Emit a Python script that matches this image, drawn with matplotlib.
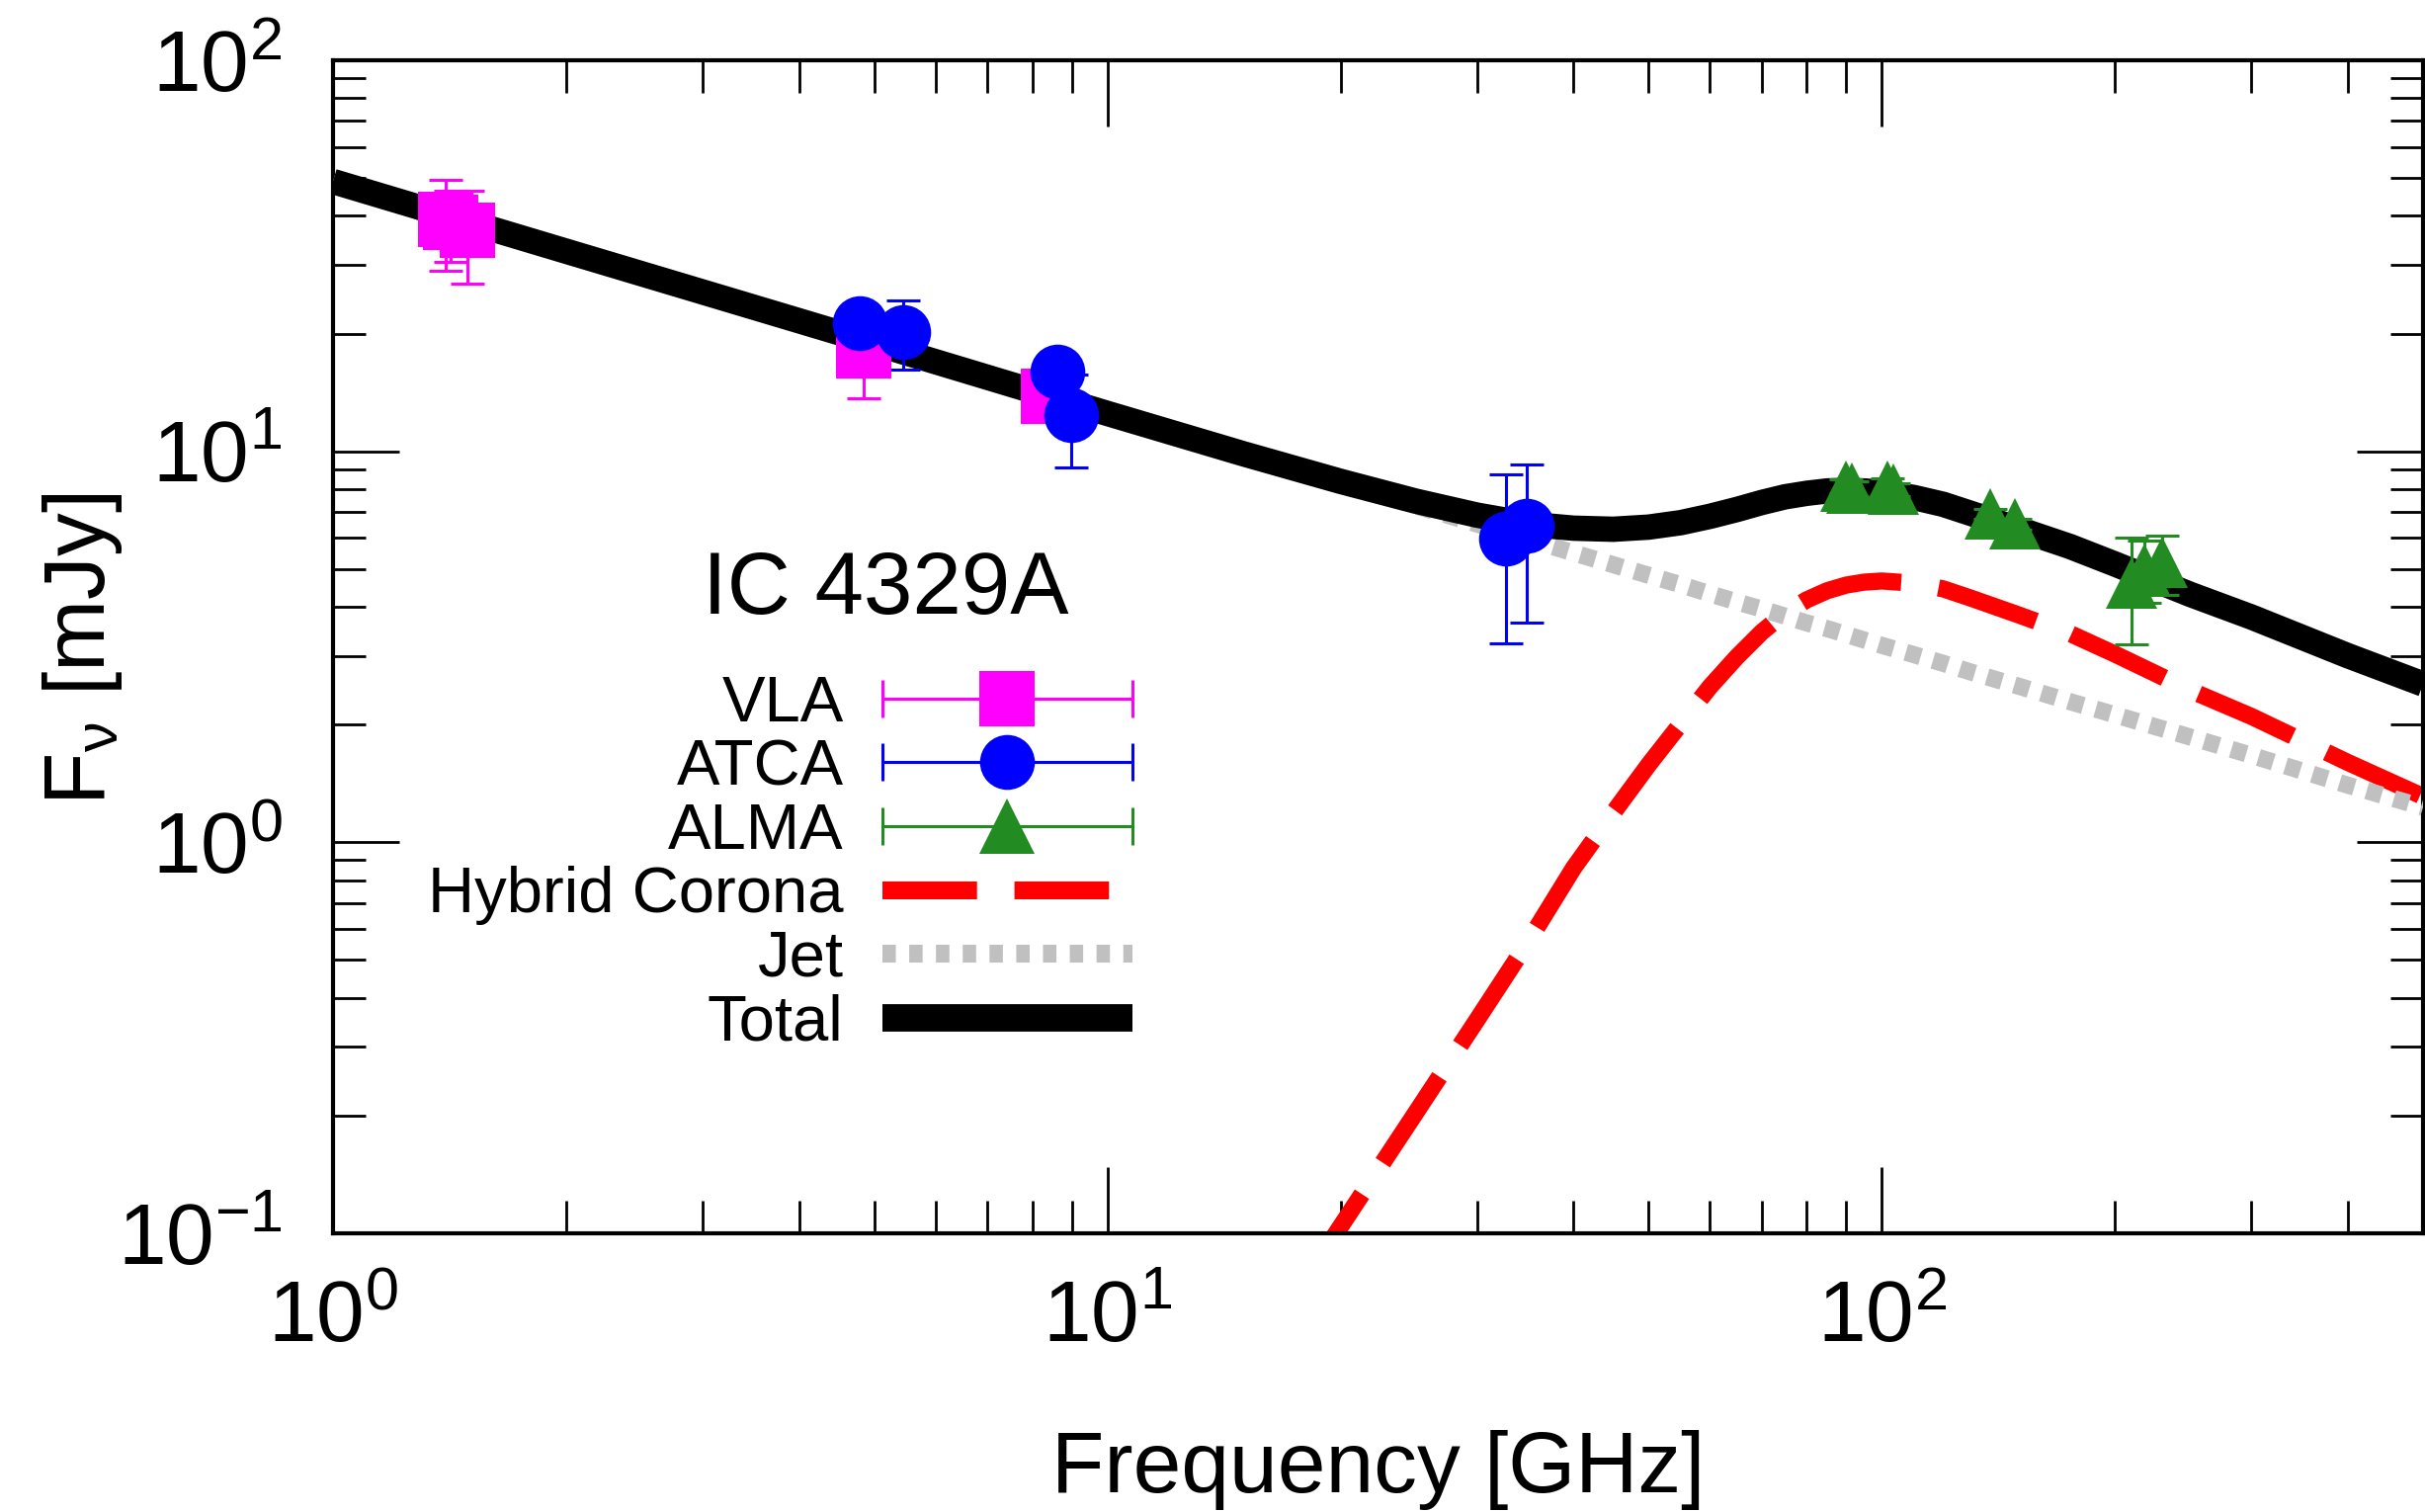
import numpy as np
import matplotlib.pyplot as plt
from matplotlib.lines import Line2D
from matplotlib.legend_handler import HandlerLine2D
from matplotlib.ticker import LogLocator

plt.rcParams['font.family'] = ['Liberation Sans', 'DejaVu Sans']
plt.rcParams['mathtext.fontset'] = 'custom'
plt.rcParams['mathtext.rm'] = 'Liberation Sans'
plt.rcParams['mathtext.it'] = 'Liberation Sans:italic'
plt.rcParams['mathtext.bf'] = 'Liberation Sans:bold'
plt.rcParams['axes.unicode_minus'] = False

# observed flux densities [GHz], [mJy]
vla_freq = [1.40, 1.42, 1.49, 4.85, 8.40]
vla_flux = [39.2, 38.5, 36.7, 18.1, 13.8]
vla_err = [10.3, 7.9, 9.8, 4.4, 1.5]

atca_freq = [4.79, 5.45, 8.61, 8.97, 32.7, 34.8]
atca_flux = [21.3, 20.2, 16.0, 12.4, 5.98, 6.44]
atca_err = [2.0, 4.05, 1.5, 3.3, 2.75, 2.8]

alma_freq = [90.0, 91.6, 101.8, 103.6, 138.0, 148.6, 210.0, 218.0, 230.0]
alma_flux = [8.15, 8.04, 8.15, 8.00, 6.92, 6.52, 4.6, 5.0, 5.2]
alma_err = [0.35, 0.35, 0.4, 0.3, 0.2, 0.2, 1.4, 0.9, 0.9]

# model components
model_freq = [1, 2, 5, 10, 15, 20, 25, 30, 35, 40, 45, 50, 55, 60, 65, 70, 75,
              80, 85, 90, 95, 100, 110, 120, 130, 150, 175, 200, 250, 300,
              400, 500]
jet_flux = [49.0, 32.5, 18.9, 12.5, 9.83, 8.28, 7.26, 6.52, 5.95, 5.50, 5.13,
            4.82, 4.56, 4.32, 4.12, 3.95, 3.79, 3.64, 3.52, 3.40, 3.29, 3.19,
            3.02, 2.87, 2.73, 2.51, 2.29, 2.12, 1.86, 1.67, 1.40, 1.23]
total_flux = [49.0, 32.5, 18.9, 12.5, 9.85, 8.38, 7.46, 6.87, 6.51, 6.36, 6.32,
              6.40, 6.57, 6.82, 7.10, 7.40, 7.65, 7.81, 7.92, 7.95, 7.92, 7.85,
              7.62, 7.32, 6.95, 6.33, 5.71, 5.15, 4.31, 3.77, 3.00, 2.54]

corona_freq = [18, 20, 25, 30, 35, 40, 45, 50, 55, 60, 65, 70, 75, 80, 85, 90,
               95, 100, 110, 120, 130, 150, 175, 200, 250, 300, 400, 500]
corona_flux = [0.076, 0.104, 0.203, 0.351, 0.56, 0.86, 1.19, 1.58, 2.01, 2.50,
               2.98, 3.45, 3.86, 4.17, 4.40, 4.55, 4.63, 4.66, 4.60, 4.45, 4.22,
               3.82, 3.42, 3.03, 2.45, 2.10, 1.60, 1.31]

fig = plt.figure(figsize=(24.54, 15.30), dpi=100)
ax = fig.add_axes([0.1373, 0.1843, 0.8619, 0.7758])
ax.set_xscale('log')
ax.set_yscale('log')

red_dash = (0, (6.0, 2.2))
gray_dot = (0, (0.9, 0.75))

ax.plot(corona_freq, corona_flux, color='#ff0000', lw=12.5, ls=red_dash,
        dash_capstyle='butt', zorder=2)
ax.plot(model_freq, jet_flux, color='#c0c0c0', lw=12.5, ls=gray_dot,
        dash_capstyle='butt', zorder=3)
ax.plot(model_freq, total_flux, color='black', lw=18.5, solid_capstyle='butt',
        zorder=4)

ekw = dict(elinewidth=2.2, capsize=12, capthick=2.2, zorder=5)
sets = [
    (vla_freq, vla_flux, vla_err, 's', '#ff00ff', 40),
    (atca_freq, atca_flux, atca_err, 'o', '#0000ff', 40),
    (alma_freq, alma_flux, alma_err, '^', '#228b22', 37),
]
for fr, fl, er, mk, col, size in sets:
    cont = ax.errorbar(fr, fl, yerr=er, fmt=mk, color=col, ms=size, **ekw)
    cont[0].set_markeredgewidth(0)

ax.set_xlim(1, 500)
ax.set_ylim(0.1, 100)

for side in ax.spines.values():
    side.set_linewidth(3)
ax.xaxis.set_minor_locator(LogLocator(base=10, subs=np.arange(2, 10), numticks=20))
ax.yaxis.set_minor_locator(LogLocator(base=10, subs=np.arange(2, 10), numticks=20))
ax.tick_params(which='both', direction='in', top=True, right=True, width=2)
ax.tick_params(which='major', length=48, labelsize=63)
ax.tick_params(which='minor', length=24)
ax.tick_params(axis='y', which='major', pad=37)
ax.tick_params(axis='x', which='major', pad=34)

ax.set_xlabel('Frequency [GHz]', fontsize=63)
ax.set_ylabel(r'F$_{\mathrm{\nu}}$ [mJy]', fontsize=63)
ax.xaxis.set_label_coords(0.5, -0.168)
ax.yaxis.set_label_coords(-0.0998, 0.498)

ax.text(0.2643, 0.548, 'IC 4329A', transform=ax.transAxes, fontsize=64,
        ha='center', va='center')

# legend: horizontal error bar with the symbol in the middle, then the models
handles = []
bar_handler = {}
for col, mk, size in [('#ff00ff', 's', 40), ('#0000ff', 'o', 40),
                      ('#228b22', '^', 41)]:
    bar = Line2D([], [], color=col, lw=2.2, marker='|', markersize=28,
                 markeredgewidth=2.2)
    pt = Line2D([], [], color=col, ls='none', marker=mk, markersize=size,
                markeredgewidth=0)
    bar_handler[bar] = HandlerLine2D(numpoints=2, marker_pad=0)
    handles.append((bar, pt))
handles.append(Line2D([], [], color='#ff0000', lw=13, ls=(0, (5.3, 2.1)),
                      dash_capstyle='butt'))
handles.append(Line2D([], [], color='#c0c0c0', lw=13, ls=(0, (0.75, 0.75)),
                      dash_capstyle='butt'))
handles.append(Line2D([], [], color='black', lw=20, solid_capstyle='butt'))
labels = ['VLA', 'ATCA', 'ALMA', 'Hybrid Corona', 'Jet', 'Total']

ax.legend(handles, labels, handler_map=bar_handler, loc='center right',
          bbox_to_anchor=(0.3825, 0.315), frameon=False, markerfirst=False,
          fontsize=47, numpoints=1, handlelength=3.88, handletextpad=0.6,
          labelspacing=0.07, borderpad=0, borderaxespad=0)

fig.savefig('out.png', dpi=100)
